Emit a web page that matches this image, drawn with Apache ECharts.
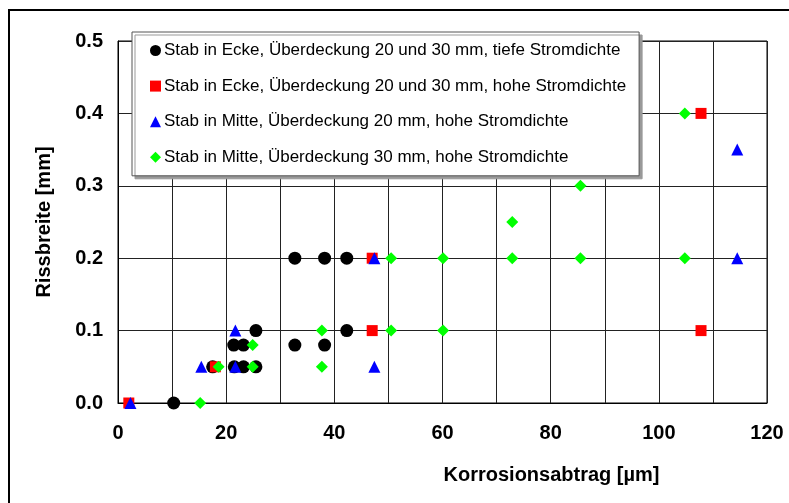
<!DOCTYPE html>
<html lang="de">
<head>
	<meta charset="UTF-8">
	<title>Rissbreite</title>
	<style type="text/css">
	body,html{
		width: 100%;
		height: 100%;
		margin: 0;
		padding: 0;
		background: #fff;
	}
	#container{
		width: 789px;
		height: 503px;
	}
	</style>
</head>
<body>
<div id="container"></div>
<script type="text/javascript" src="https://cdn.jsdelivr.net/npm/echarts@6/dist/echarts.min.js"></script>
<script type="text/javascript">
	// Namen der Messreihen
	var seriesNames = [
		'Stab in Ecke, Überdeckung 20 und 30 mm, tiefe Stromdichte',
		'Stab in Ecke, Überdeckung 20 und 30 mm, hohe Stromdichte',
		'Stab in Mitte, Überdeckung 20 mm, hohe Stromdichte',
		'Stab in Mitte, Überdeckung 30 mm, hohe Stromdichte'
	];
	// [Korrosionsabtrag µm, Rissbreite mm]
	var eckeTief = [
		[10.3, 0], [17.5, 0.05], [21.5, 0.05], [23.2, 0.05], [25.5, 0.05],
		[21.4, 0.08], [23.2, 0.08], [25.5, 0.1], [32.7, 0.08], [38.2, 0.08],
		[32.7, 0.2], [38.2, 0.2], [42.3, 0.2], [42.3, 0.1]
	];
	var eckeHoch = [
		[2.0, 0], [18.0, 0.05], [47.0, 0.2], [47.0, 0.1], [107.8, 0.4], [107.8, 0.1]
	];
	var mitte20 = [
		[2.3, 0], [15.4, 0.05], [21.7, 0.1], [21.7, 0.05], [47.4, 0.2], [47.4, 0.05],
		[114.5, 0.35], [114.5, 0.2]
	];
	var mitte30 = [
		[15.2, 0], [18.6, 0.05], [24.9, 0.08], [24.9, 0.05], [37.7, 0.1], [37.7, 0.05],
		[50.5, 0.2], [50.5, 0.1], [60.1, 0.2], [60.1, 0.1], [72.9, 0.25], [72.9, 0.2],
		[85.5, 0.3], [85.5, 0.2], [104.8, 0.4], [104.8, 0.2]
	];
	var xTicks = { min: 0, max: 120, step: 20 };
	var yTicks = { min: 0, max: 0.5, step: 0.1 };

	var font = 'Liberation Sans, Arial, sans-serif';
	var lineStyle = { color: '#222', width: 1 };

	function serie(name, data, symbol, size, color) {
		return {
			name: name,
			type: 'scatter',
			data: data,
			symbol: symbol,
			symbolSize: size,
			itemStyle: { color: color, opacity: 1 },
			emphasis: { disabled: true }
		};
	}

	var option = {
		backgroundColor: '#fff',
		animation: false,
		graphic: [{
			type: 'rect',
			z: 100,
			silent: true,
			shape: { x: 9, y: 10, width: 900, height: 600 },
			style: { fill: 'none', stroke: '#000', lineWidth: 2 }
		}],
		grid: {
			left: 118,
			right: 22,
			top: 41,
			bottom: 100,
			show: true,
			backgroundColor: '#fff',
			borderColor: '#000',
			borderWidth: 1
		},
		legend: {
			orient: 'vertical',
			left: 132,
			top: 32,
			data: seriesNames,
			itemWidth: 11,
			itemHeight: 11,
			itemGap: 18.6,
			padding: [10, 13, 10, 18],
			backgroundColor: '#fff',
			borderColor: '#555',
			borderWidth: 1,
			shadowColor: '#999',
			shadowOffsetX: 3,
			shadowOffsetY: 3,
			shadowBlur: 0,
			textStyle: { fontFamily: font, fontSize: 17, color: '#000', padding: [0, 0, 0, -2] },
			selectedMode: false
		},
		xAxis: {
			type: 'value',
			min: xTicks.min,
			max: xTicks.max,
			interval: xTicks.step,
			name: 'Korrosionsabtrag [µm]',
			nameLocation: 'middle',
			nameGap: 62,
			nameTextStyle: {
				fontFamily: font, fontSize: 20, fontWeight: 'bold', color: '#000',
				padding: [0, 0, 0, 218]
			},
			axisLine: { show: true, lineStyle: { color: '#000', width: 1 } },
			axisTick: { show: false },
			axisLabel: { fontFamily: font, fontSize: 20, fontWeight: 'bold', color: '#000', margin: 20 },
			splitLine: { show: true, lineStyle: lineStyle },
			minorTick: { show: false, splitNumber: 2 },
			minorSplitLine: { show: true, lineStyle: lineStyle }
		},
		yAxis: {
			type: 'value',
			min: yTicks.min,
			max: yTicks.max,
			interval: yTicks.step,
			name: 'Rissbreite [mm]',
			nameLocation: 'middle',
			nameGap: 64,
			nameTextStyle: { fontFamily: font, fontSize: 20, fontWeight: 'bold', color: '#000' },
			axisLine: { show: true, lineStyle: { color: '#000', width: 1 } },
			axisTick: { show: false },
			axisLabel: {
				fontFamily: font, fontSize: 20, fontWeight: 'bold', color: '#000', margin: 15,
				formatter: function (v) { return v.toFixed(1); }
			},
			splitLine: { show: true, lineStyle: lineStyle }
		},
		series: [
			serie(seriesNames[0], eckeTief, 'circle', 13, '#000000'),
			serie(seriesNames[1], eckeHoch, 'rect', 11, '#ff0000'),
			serie(seriesNames[2], mitte20, 'triangle', 12, '#0000ff'),
			serie(seriesNames[3], mitte30, 'diamond', 12, '#00ff00')
		]
	};
	var chart = echarts.init(document.getElementById('container'));
	chart.setOption(option, true);
</script>
</body>
</html>
